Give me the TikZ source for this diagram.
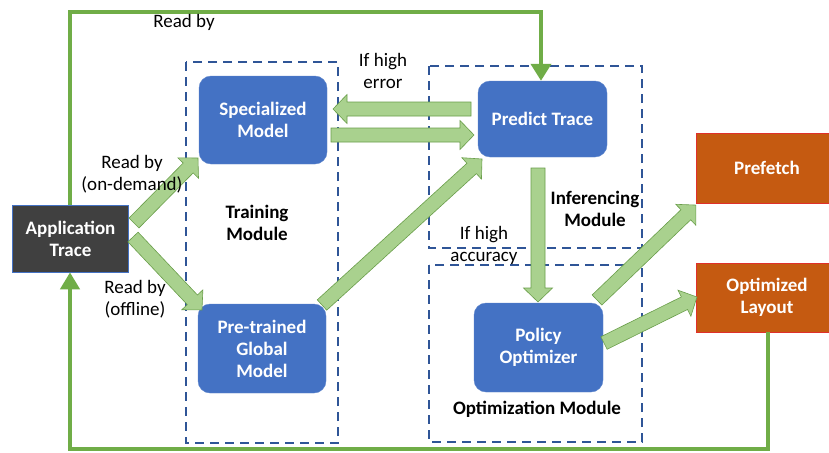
\documentclass[tikz,border=0pt]{standalone}
\usepackage{fontspec}
\setmainfont{Carlito}
\usetikzlibrary{arrows.meta}
\definecolor{boxblue}{HTML}{4472C4}
\definecolor{dashblue}{HTML}{2F5597}
\definecolor{appgray}{HTML}{404040}
\definecolor{orangebox}{HTML}{C55A11}
\definecolor{orangeline}{HTML}{E0302A}
\definecolor{linegreen}{HTML}{70AD47}
\definecolor{arrowfill}{HTML}{A9D18E}
\definecolor{arrowline}{HTML}{6A9E4A}
\tikzset{
  txt/.style={font=\fontsize{19}{22}\selectfont, align=center, inner sep=0pt},
  btxt/.style={txt, font=\fontsize{19}{22}\selectfont\bfseries},
  bluebox/.style={draw=boxblue!85!white, fill=boxblue, rounded corners=12pt, text=white,
    font=\fontsize{19}{22}\selectfont\bfseries, align=center, inner sep=0pt},
  grayboxst/.style={draw=boxblue, line width=0.6pt, fill=appgray, text=white,
    font=\fontsize{19}{22}\selectfont\bfseries, align=center, inner sep=0pt},
  orangeboxst/.style={draw=orangeline, line width=0.8pt, fill=orangebox, text=white,
    font=\fontsize{19}{22}\selectfont\bfseries, align=center, inner sep=0pt},
  modbox/.style={draw=dashblue, line width=1.9pt, dash pattern=on 9pt off 6pt},
  feedback/.style={draw=linegreen, line width=4pt},
  blockarrow/.style={draw=arrowline, line width=0.6pt, fill=arrowfill, line join=miter},
}
\newcommand\barrow[2]{%
  \path (#1) coordinate (ba1) (#2) coordinate (ba2);
  \pgfpointdiff{\pgfpointanchor{ba1}{center}}{\pgfpointanchor{ba2}{center}}%
  \pgfgetlastxy\bax\bay
  \pgfmathsetmacro\baang{atan2(\bay,\bax)}%
  \pgfmathsetmacro\balen{veclen(\bax,\bay)}%
  \begin{scope}[shift={(ba1)}, rotate=\baang]
    \draw[blockarrow] (0pt,-7pt) -- (\balen pt-14pt,-7pt) -- (\balen pt-14pt,-14.5pt)
      -- (\balen pt,0pt) -- (\balen pt-14pt,14.5pt) -- (\balen pt-14pt,7pt) -- (0pt,7pt) -- cycle;
  \end{scope}}
\begin{document}
\begin{tikzpicture}[x=1pt,y=-1pt]
\useasboundingbox[fill=white] (0,0) rectangle (829,452);

% module dashed boxes
\draw[modbox] (186,62) rectangle (338,443);
\draw[modbox] (429,66) rectangle (642,248);
\draw[modbox] (429,265) rectangle (642,442);

% nodes
\node[grayboxst, minimum width=116pt, minimum height=67pt] (app) at (70.5,238.5) {Application\\Trace};
\node[bluebox, minimum width=128pt, minimum height=88pt] (spec) at (263,120) {Specialized\\Model};
\node[bluebox, minimum width=128pt, minimum height=89pt] (pre) at (262,348.5) {Pre-trained\\Global\\Model};
\node[bluebox, minimum width=129pt, minimum height=76pt] (pred) at (542.5,119) {Predict Trace};
\node[bluebox, minimum width=129pt, minimum height=89pt] (pol) at (538.5,347.5) {Policy\\Optimizer};
\node[orangeboxst, minimum width=142pt, minimum height=70pt] (pf) at (767,168) {Prefetch};
\node[orangeboxst, minimum width=142pt, minimum height=69pt] (ol) at (767,297.5) {Optimized\\Layout};

% feedback lines
\coordinate (t1) at (70,12);
\coordinate (t2) at (541,12);
\draw[feedback, -{Triangle[width=20pt,length=17pt]}] (app.north -| t1) -- (t1) -- (t2) -- (pred.north -| t2);
\coordinate (b1) at (768,449);
\coordinate (b2) at (70,449);
\draw[feedback, -{Triangle[width=19pt,length=17pt]}] (ol.south -| b1) -- (b1) -- (b2) -- (app.south -| b2);

% block arrows
\coordinate (a1s) at (134,223); \coordinate (a1e) at (198,158);
\coordinate (a2s) at (133,237); \coordinate (a2e) at (202,310);
\coordinate (a3s) at (471,109); \coordinate (a3e) at (333,109);
\coordinate (a4s) at (331,135); \coordinate (a4e) at (474,135);
\coordinate (a5s) at (322,305); \coordinate (a5e) at (482,159);
\coordinate (a6s) at (538,168); \coordinate (a6e) at (538,302);
\coordinate (a7s) at (597,300); \coordinate (a7e) at (696,205);
\coordinate (a8s) at (604,343); \coordinate (a8e) at (697,297);
\barrow{a1s}{a1e}
\barrow{a2s}{a2e}
\barrow{a3s}{a3e}
\barrow{a4s}{a4e}
\barrow{a5s}{a5e}
\barrow{a6s}{a6e}
\barrow{a7s}{a7e}
\barrow{a8s}{a8e}

% labels
\node[txt] (l1) at (184,22) {Read by};
\node[txt] (l2) at (132,174) {Read by\\(on-demand)};
\node[btxt] (l3) at (257,223) {Training\\Module};
\node[txt] (l4) at (135,299) {Read by\\(offline)};
\node[txt] (l5) at (383,71) {If high\\error};
\node[btxt] (l6) at (595,209) {Inferencing\\Module};
\node[txt] (l7) at (484,245.5) {If high\\accuracy};
\node[btxt] (l8) at (537,409) {Optimization Module};
\end{tikzpicture}
\end{document}
